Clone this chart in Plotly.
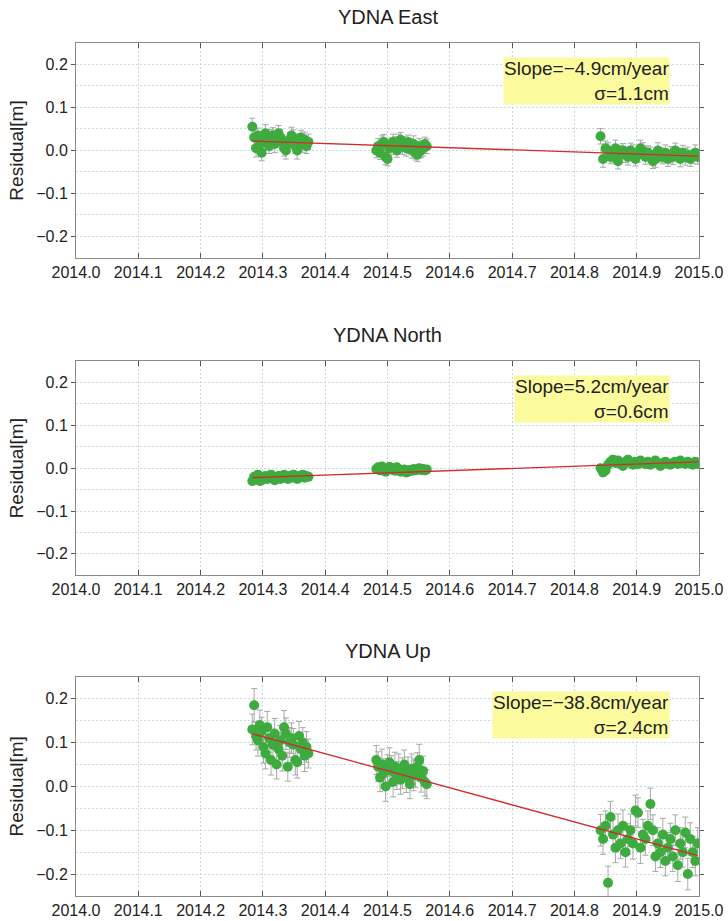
import plotly.graph_objects as go
from plotly.subplots import make_subplots

# Epochs (decimal year), shared by the three components
t = [2014.283, 2014.286, 2014.289, 2014.292, 2014.295, 2014.298, 2014.301, 2014.304,
     2014.307, 2014.310, 2014.313, 2014.316, 2014.319, 2014.322, 2014.325, 2014.328,
     2014.331, 2014.334, 2014.337, 2014.340, 2014.343, 2014.346, 2014.349, 2014.352,
     2014.355, 2014.358, 2014.361, 2014.364, 2014.367, 2014.370, 2014.373,
     2014.482, 2014.485, 2014.488, 2014.491, 2014.494, 2014.497, 2014.500, 2014.503,
     2014.506, 2014.509, 2014.512, 2014.515, 2014.518, 2014.521, 2014.524, 2014.527,
     2014.530, 2014.533, 2014.536, 2014.539, 2014.542, 2014.545, 2014.548, 2014.551,
     2014.554, 2014.557, 2014.560, 2014.563,
     2014.842, 2014.846, 2014.850, 2014.854, 2014.858, 2014.862, 2014.866, 2014.870,
     2014.874, 2014.878, 2014.882, 2014.886, 2014.890, 2014.894, 2014.898, 2014.902,
     2014.906, 2014.910, 2014.914, 2014.918, 2014.922, 2014.926, 2014.930, 2014.934,
     2014.938, 2014.942, 2014.946, 2014.950, 2014.954, 2014.958, 2014.962, 2014.966,
     2014.970, 2014.974, 2014.978, 2014.982, 2014.986, 2014.990, 2014.994, 2014.998]

# Residuals [m]
east = [0.055, 0.030, 0.005, 0.035, 0.015, -0.005, 0.025, 0.040, 0.020, 0.010, 0.030,
        0.035, 0.015, 0.025, 0.040, 0.030, 0.020, 0.005, 0.000, 0.015, 0.025, 0.035,
        0.030, 0.010, 0.000, 0.020, 0.030, 0.015, 0.025, 0.010, 0.020,
        0.000, 0.010, -0.005, 0.015, 0.020, -0.015, -0.020, 0.005, 0.010, 0.020, 0.015,
        0.000, 0.020, 0.025, 0.010, 0.015, 0.005, 0.020, 0.010, 0.000, 0.015, -0.005,
        -0.010, 0.010, 0.000, 0.005, 0.015, 0.010,
        0.033, -0.020, 0.005, 0.000, -0.015, -0.010, 0.005, -0.025, -0.005, 0.000,
        -0.010, -0.015, 0.000, -0.005, -0.020, -0.010, 0.005, 0.000, -0.015, -0.005,
        -0.010, -0.025, -0.020, 0.000, -0.010, -0.015, -0.005, -0.020, -0.010, -0.015,
        0.000, -0.010, -0.020, -0.005, -0.015, -0.010, -0.020, -0.015, -0.005, -0.015]
north = [-0.030, -0.020, -0.025, -0.015, -0.030, -0.028, -0.022, -0.018, -0.025, -0.020,
         -0.015, -0.022, -0.028, -0.020, -0.018, -0.025, -0.022, -0.015, -0.020, -0.025,
         -0.018, -0.022, -0.015, -0.020, -0.025, -0.018, -0.020, -0.015, -0.022, -0.018,
         -0.020,
         -0.002, 0.002, -0.005, 0.004, 0.000, -0.008, -0.003, 0.003, 0.001, -0.004,
         -0.006, 0.002, -0.002, -0.008, -0.005, -0.003, -0.010, -0.008, -0.004, -0.006,
         -0.002, -0.005, -0.003, 0.000, -0.004, -0.002, -0.005, -0.003,
         0.000, -0.010, -0.005, 0.008, 0.015, 0.020, 0.012, 0.018, 0.010, 0.005, 0.015,
         0.020, 0.012, 0.008, 0.015, 0.010, 0.018, 0.012, 0.010, 0.015, 0.008, 0.012,
         0.018, 0.010, 0.005, 0.012, 0.015, 0.010, 0.008, 0.012, 0.015, 0.010, 0.018,
         0.012, 0.010, 0.015, 0.012, 0.008, 0.015, 0.010]
up = [0.130, 0.185, 0.115, 0.105, 0.140, 0.125, 0.090, 0.075, 0.135, 0.110, 0.060,
      0.095, 0.120, 0.050, 0.085, 0.105, 0.070, 0.135, 0.120, 0.045, 0.100, 0.110,
      0.095, 0.060, 0.055, 0.115, 0.085, 0.100, 0.070, 0.090, 0.075,
      0.060, 0.045, 0.020, 0.050, 0.030, 0.000, 0.040, 0.055, 0.035, 0.010, 0.045,
      0.025, 0.040, 0.015, 0.030, 0.050, 0.020, 0.035, 0.005, 0.040, 0.025, 0.030,
      0.045, 0.060, 0.020, 0.035, 0.010, 0.005,
      -0.100, -0.120, -0.090, -0.220, -0.070, -0.110, -0.140, -0.100, -0.130, -0.090,
      -0.150, -0.120, -0.100, -0.130, -0.055, -0.060, -0.140, -0.110, -0.120, -0.090,
      -0.040, -0.100, -0.160, -0.130, -0.150, -0.110, -0.170, -0.140, -0.120, -0.160,
      -0.100, -0.180, -0.130, -0.150, -0.105, -0.200, -0.120, -0.150, -0.170, -0.130]

# Formal errors [m]
east_err = [0.020, 0.018, 0.020, 0.017, 0.018, 0.019, 0.017, 0.020, 0.018, 0.017, 0.019,
            0.018, 0.020, 0.017, 0.018, 0.019, 0.017, 0.018, 0.020, 0.018, 0.017, 0.019,
            0.018, 0.017, 0.020, 0.018, 0.017, 0.019, 0.018, 0.017, 0.018,
            0.017, 0.018, 0.016, 0.019, 0.017, 0.018, 0.016, 0.017, 0.019, 0.018, 0.017,
            0.016, 0.018, 0.017, 0.019, 0.017, 0.018, 0.016, 0.017, 0.018, 0.019, 0.017,
            0.016, 0.018, 0.017, 0.018, 0.016, 0.017,
            0.018, 0.019, 0.017, 0.018, 0.016, 0.017, 0.019, 0.018, 0.017, 0.016, 0.018,
            0.019, 0.017, 0.018, 0.016, 0.017, 0.019, 0.018, 0.017, 0.016, 0.018, 0.017,
            0.019, 0.018, 0.017, 0.016, 0.018, 0.017, 0.019, 0.018, 0.017, 0.016, 0.018,
            0.017, 0.019, 0.018, 0.017, 0.016, 0.018, 0.017]
north_err = [0.009, 0.008, 0.009, 0.008, 0.007, 0.009, 0.008, 0.008, 0.009, 0.007, 0.008,
             0.009, 0.008, 0.007, 0.008, 0.009, 0.008, 0.007, 0.009, 0.008, 0.008, 0.007,
             0.009, 0.008, 0.008, 0.007, 0.009, 0.008, 0.007, 0.008, 0.009,
             0.008, 0.007, 0.008, 0.009, 0.008, 0.007, 0.008, 0.009, 0.008, 0.007, 0.008,
             0.009, 0.008, 0.007, 0.008, 0.009, 0.008, 0.007, 0.008, 0.009, 0.008, 0.007,
             0.008, 0.009, 0.008, 0.007, 0.008, 0.009,
             0.009, 0.008, 0.009, 0.008, 0.007, 0.009, 0.008, 0.008, 0.009, 0.007, 0.008,
             0.009, 0.008, 0.007, 0.008, 0.009, 0.008, 0.007, 0.009, 0.008, 0.008, 0.007,
             0.009, 0.008, 0.008, 0.007, 0.009, 0.008, 0.007, 0.008, 0.009, 0.008, 0.007,
             0.008, 0.009, 0.008, 0.007, 0.008, 0.009, 0.008]
up_err = [0.035, 0.038, 0.032, 0.036, 0.034, 0.033, 0.037, 0.035, 0.036, 0.032, 0.034,
          0.036, 0.035, 0.033, 0.037, 0.034, 0.035, 0.038, 0.036, 0.033, 0.034, 0.035,
          0.037, 0.034, 0.036, 0.033, 0.035, 0.034, 0.036, 0.035, 0.033,
          0.033, 0.034, 0.032, 0.035, 0.033, 0.034, 0.032, 0.033, 0.035, 0.034, 0.033,
          0.032, 0.034, 0.033, 0.035, 0.033, 0.034, 0.032, 0.033, 0.034, 0.035, 0.033,
          0.032, 0.036, 0.033, 0.034, 0.032, 0.033,
          0.036, 0.035, 0.034, 0.038, 0.036, 0.035, 0.034, 0.037, 0.035, 0.036, 0.034,
          0.035, 0.037, 0.036, 0.035, 0.034, 0.036, 0.035, 0.037, 0.034, 0.036, 0.035,
          0.034, 0.036, 0.035, 0.037, 0.034, 0.035, 0.036, 0.034, 0.035, 0.037, 0.036,
          0.034, 0.035, 0.036, 0.037, 0.035, 0.034, 0.036]

# Linear fits: endpoints [m]
fit_t = [2014.283, 2014.998]
east_fit = [0.022, -0.013]
north_fit = [-0.022, 0.015]
up_fit = [0.120, -0.158]

titles = ['YDNA East', 'YDNA North', 'YDNA Up']
slopes = ['Slope=−4.9cm/year', 'Slope=5.2cm/year', 'Slope=−38.8cm/year']
sigmas = ['σ=1.1cm', 'σ=0.6cm', 'σ=2.4cm']

series = [(east, east_err, east_fit), (north, north_err, north_fit), (up, up_err, up_fit)]
dominios = [[0.748, 1.0], [0.376, 0.627], [0.0, 0.257]]

fig = make_subplots(rows=3, cols=1)
fuente = 'Liberation Sans, Arial, sans-serif'
rejilla = '#c4dcdc'

for i, (res, err, fit) in enumerate(series):
    fila = i + 1
    fig.add_trace(go.Scatter(x=t, y=res, mode='markers',
                             error_y=dict(type='data', array=err, color='#a8a8a8', thickness=1, width=3),
                             marker=dict(color='#3dab3d', size=10)),
                  row=fila, col=1)
    fig.add_trace(go.Scatter(x=fit_t, y=fit, mode='lines',
                             line=dict(color='#d42a2a', width=1.3)),
                  row=fila, col=1)
    fig.update_yaxes(domain=dominios[i], row=fila, col=1)
    ref = '' if fila == 1 else str(fila)
    fig.add_annotation(xref='x' + ref + ' domain', yref='y' + ref + ' domain', x=0.5, y=1,
                       yshift=13, yanchor='bottom', showarrow=False, text=titles[i],
                       font=dict(size=20, color='#222'))
    fig.add_annotation(xref='x' + ref, yref='y' + ref, x=2014.953, y=0.217, xanchor='right',
                       yanchor='top', showarrow=False, align='right', bgcolor='#fbfb9e',
                       borderpad=0, text=slopes[i] + '<br>' + sigmas[i],
                       font=dict(size=19, color='#222'))

fig.update_xaxes(range=[2014.0, 2015.0], dtick=0.1, tickformat='.1f', showgrid=True,
                 gridcolor=rejilla, griddash='2px,2px', gridwidth=1, zeroline=False,
                 showline=True, linecolor='#8a8a8a', linewidth=1, mirror='ticks',
                 ticks='inside', ticklen=5, tickcolor='#555',
                 tickfont=dict(size=16, color='#222'))
fig.update_yaxes(range=[-0.25, 0.25], dtick=0.1, tickformat='.1f', showgrid=True,
                 gridcolor=rejilla, griddash='2px,2px', gridwidth=1, zeroline=False,
                 minor=dict(dtick=0.05, showgrid=True, gridcolor=rejilla, griddash='2px,2px'),
                 showline=True, linecolor='#8a8a8a', linewidth=1, mirror='ticks',
                 ticks='outside', ticklen=4, tickcolor='#555',
                 tickfont=dict(size=16, color='#222'),
                 title=dict(text='Residual[m]', font=dict(size=19, color='#222'), standoff=7))

fig.update_layout(width=728, height=921, template='plotly_white', showlegend=False,
                  paper_bgcolor='white', plot_bgcolor='white',
                  font=dict(family=fuente),
                  margin=dict(l=76, r=29, t=43, b=25, autoexpand=False))

fig.write_html('out.html', config={'displayModeBar': False},
               post_script="document.body.style.margin='0';")
